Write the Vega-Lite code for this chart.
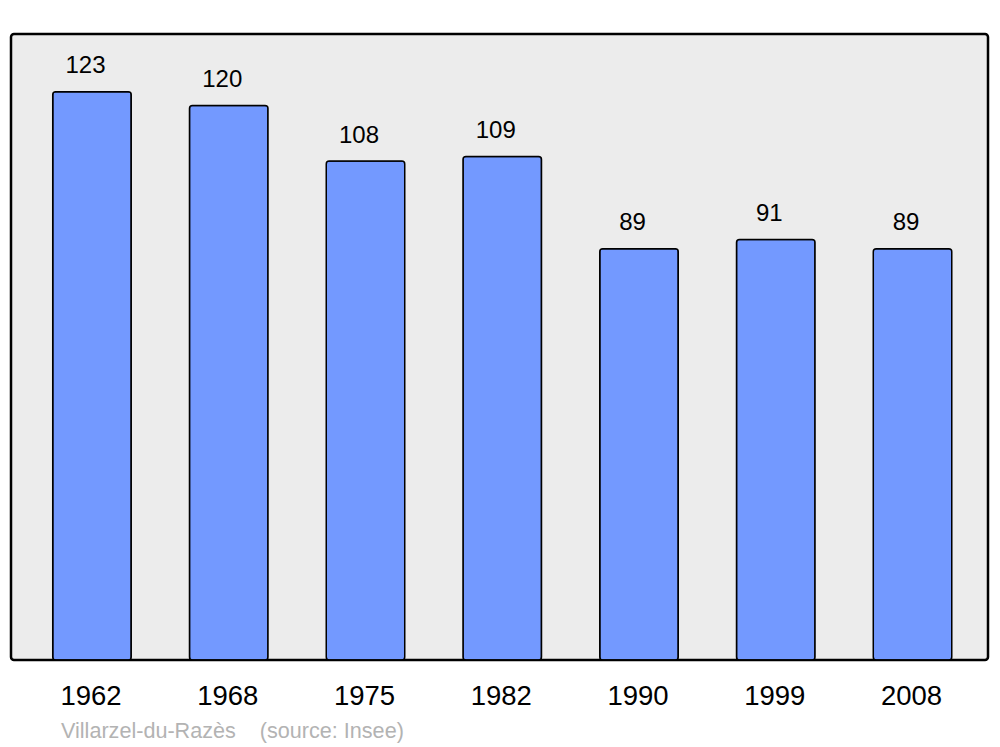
{
  "$schema": "https://vega.github.io/schema/vega-lite/v6.json",
  "width": 977,
  "height": 626,
  "autosize": {"type": "none"},
  "padding": {"left": 11, "top": 34, "right": 12, "bottom": 87},
  "background": "#ffffff",
  "config": {
    "view": {"fill": "#ececec", "stroke": "#000000", "strokeWidth": 2.5, "cornerRadius": 3},
    "font": "Liberation Sans"
  },
  "title": {
    "text": "Villarzel-du-Razès\u00a0\u00a0\u00a0\u00a0(source: Insee)",
    "orient": "bottom",
    "anchor": "start",
    "frame": "group",
    "dx": 50,
    "offset": 28,
    "fontSize": 21.6,
    "fontWeight": "normal",
    "color": "#b3b3b3",
    "font": "Liberation Sans",
    "baseline": "alphabetic"
  },
  "data": {
    "values": [
      {"year": "1962", "pop": 123},
      {"year": "1968", "pop": 120},
      {"year": "1975", "pop": 108},
      {"year": "1982", "pop": 109},
      {"year": "1990", "pop": 89},
      {"year": "1999", "pop": 91},
      {"year": "2008", "pop": 89}
    ]
  },
  "encoding": {
    "x": {
      "field": "year",
      "type": "nominal",
      "sort": null,
      "scale": {"range": [12.6, 969.9], "paddingInner": 0.426, "paddingOuter": 0.213},
      "axis": {
        "title": null,
        "domain": false,
        "ticks": false,
        "tickSize": 0,
        "labelAngle": 0,
        "labelFontSize": 27.5,
        "labelColor": "#000000",
        "labelFont": "Liberation Sans",
        "labelBaseline": "alphabetic",
        "labelPadding": 44,
        "labelOffset": -1,
        "grid": false
      }
    },
    "y": {
      "field": "pop",
      "type": "quantitative",
      "scale": {"domain": [0, 135.5], "nice": false, "zero": true},
      "axis": null
    }
  },
  "layer": [
    {
      "mark": {"type": "bar", "fill": "#7399ff", "stroke": "#000000", "strokeWidth": 1.5, "cornerRadius": 3}
    },
    {
      "mark": {"type": "text", "fontSize": 24, "baseline": "alphabetic", "dy": -18.5, "dx": -6.5, "color": "#000000", "font": "Liberation Sans"},
      "encoding": {"text": {"field": "pop", "type": "quantitative"}}
    }
  ]
}
